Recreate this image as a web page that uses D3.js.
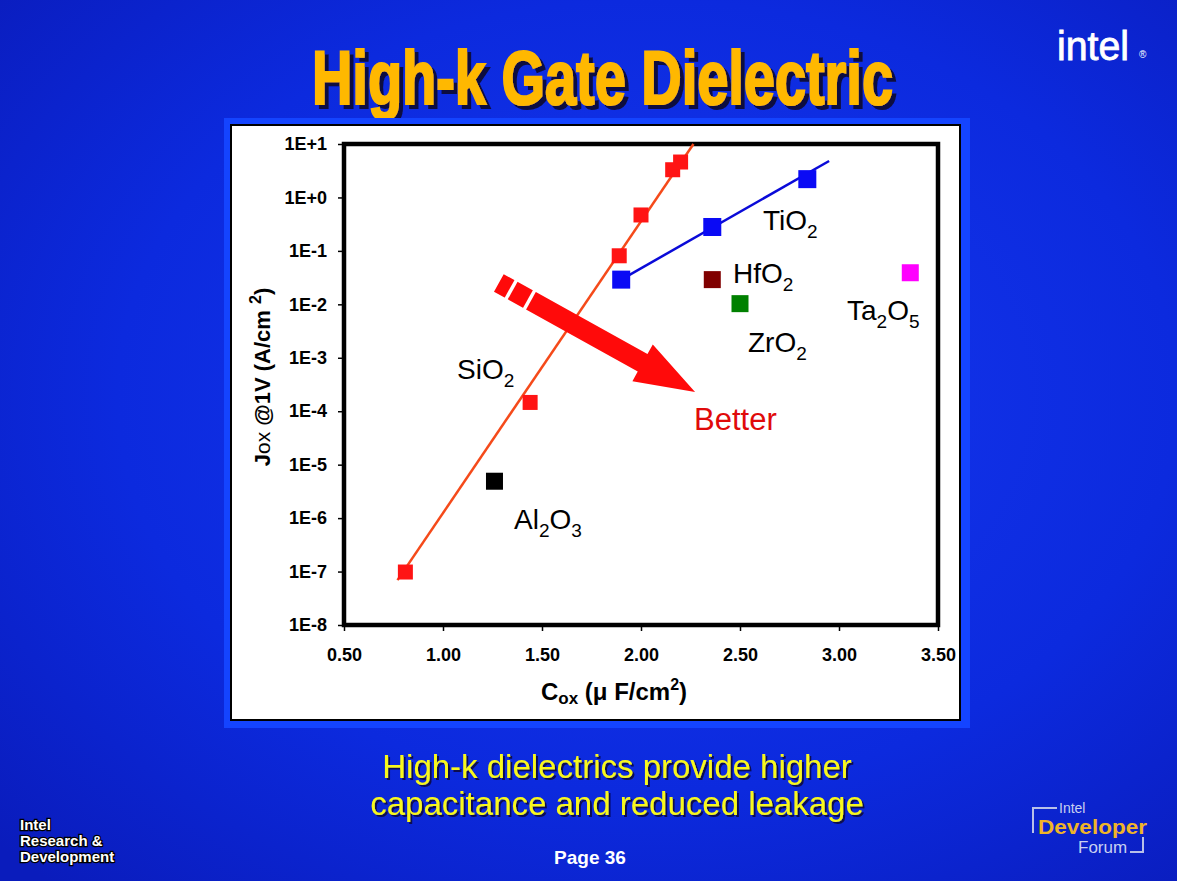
<!DOCTYPE html>
<html>
<head>
<meta charset="utf-8">
<script src="https://cdn.jsdelivr.net/npm/d3@7"></script>
<style>
  html, body { margin: 0; padding: 0; background: #0c28d8; }
  svg { display: block; }
  text { font-family: Arial, "Liberation Sans", Helvetica, sans-serif; }
</style>
</head>
<body>
<svg id="chart" width="1177" height="881"></svg>
<script>
// ---------- data ----------
const xTicks = [0.5, 1.0, 1.5, 2.0, 2.5, 3.0, 3.5];
const xTickLabels = ["0.50", "1.00", "1.50", "2.00", "2.50", "3.00", "3.50"];
const yTicks = [1e-8, 1e-7, 1e-6, 1e-5, 1e-4, 1e-3, 1e-2, 1e-1, 1e0, 1e1];
const yTickLabels = ["1E-8", "1E-7", "1E-6", "1E-5", "1E-4", "1E-3", "1E-2", "1E-1", "1E+0", "1E+1"];

const sio2X = [0.81, 1.44, 1.89, 2.00, 2.16, 2.20];
const sio2Y = [9.8e-8, 1.46e-4, 0.081, 0.47, 3.3, 4.6];
const sio2FitX = [0.77, 2.265];
const sio2FitY = [6.9e-8, 10];

const tio2X = [1.90, 2.36, 2.84];
const tio2Y = [0.029, 0.28, 2.2];
const tio2FitX = [1.90, 2.95];
const tio2FitY = [0.029, 4.8];

const otherNames = ["HfO2", "ZrO2", "Ta2O5", "Al2O3"];
const otherX = [2.36, 2.50, 3.36, 1.26];
const otherY = [0.029, 0.0103, 0.039, 4.9e-6];
const otherColors = ["#800000", "#008000", "#ff00ff", "#000000"];

// arrow annotation (data coords): tail and tip
const arrowX = [1.282, 2.273];
const arrowY = [0.0251, 2.29e-4];

// ---------- drawing ----------
const svg = d3.select("#chart");
const W = 1177, H = 881;

const defs = svg.append("defs");
const bg = defs.append("radialGradient").attr("id", "bg")
  .attr("cx", "55%").attr("cy", "45%").attr("r", "75%");
bg.append("stop").attr("offset", "0%").attr("stop-color", "#1638f0");
bg.append("stop").attr("offset", "60%").attr("stop-color", "#0c2ade");
bg.append("stop").attr("offset", "100%").attr("stop-color", "#0a1cbc");

const mkShadow = (id, dx, dy, col) => {
  const f = defs.append("filter").attr("id", id).attr("x", "-10%").attr("y", "-20%").attr("width", "130%").attr("height", "150%");
  f.append("feDropShadow").attr("dx", dx).attr("dy", dy).attr("stdDeviation", 0.4)
    .attr("flood-color", col).attr("flood-opacity", 1);
};
mkShadow("shTitle", 4, 4, "#101040");
mkShadow("shCap", 2, 2, "#0a0a50");

svg.append("rect").attr("width", W).attr("height", H).attr("fill", "url(#bg)");

// Title
svg.append("text").attr("x", 312).attr("y", 104)
  .attr("font-family", "'Liberation Sans Narrow', 'DejaVu Sans Condensed', Arial, sans-serif")
  .attr("font-weight", "bold").attr("font-size", 76)
  .attr("textLength", 581).attr("lengthAdjust", "spacingAndGlyphs")
  .attr("fill", "#ffb800").attr("stroke", "#ffb800").attr("stroke-width", 2.2)
  .attr("filter", "url(#shTitle)")
  .text("High-k Gate Dielectric");

// intel logo
svg.append("text").attr("x", 1057).attr("y", 60).attr("fill", "#ffffff")
  .attr("font-size", 40).attr("stroke", "#ffffff").attr("stroke-width", 0.8)
  .attr("textLength", 72).attr("lengthAdjust", "spacingAndGlyphs").text("intel");
svg.append("text").attr("x", 1139).attr("y", 58).attr("font-size", 10).attr("fill", "#ffffff").text("®");

// chart panel
svg.append("rect").attr("x", 224).attr("y", 118).attr("width", 746).attr("height", 610).attr("fill", "#1444ff");
svg.append("rect").attr("x", 231).attr("y", 125).attr("width", 729).attr("height", 595)
  .attr("fill", "#ffffff").attr("stroke", "#000000").attr("stroke-width", 2);

const x = d3.scaleLinear().domain([0.5, 3.5]).range([344, 938]);
const y = d3.scaleLog().domain([1e-8, 10]).range([625, 144]);

// axes
const yAxis = d3.axisLeft(y).tickValues(yTicks)
  .tickFormat((d, i) => yTickLabels[i]).tickSize(6).tickSizeOuter(0).tickPadding(11);
const yg = svg.append("g").attr("transform", "translate(344,0)").call(yAxis);
const xAxis = d3.axisBottom(x).tickValues(xTicks)
  .tickFormat((d, i) => xTickLabels[i]).tickSize(6).tickSizeOuter(0).tickPadding(17);
const xg = svg.append("g").attr("transform", "translate(0,625)").call(xAxis);
[yg, xg].forEach(g => {
  g.select(".domain").remove();
  g.selectAll(".tick line").attr("stroke", "#000").attr("stroke-width", 1.5);
  g.selectAll(".tick text").attr("fill", "#000").attr("font-size", 18)
    .attr("font-weight", "bold").attr("font-family", "Arial, 'Liberation Sans', sans-serif");
});

// plot frame
svg.append("rect").attr("x", 344).attr("y", 144).attr("width", 594).attr("height", 481)
  .attr("fill", "none").attr("stroke", "#000").attr("stroke-width", 4.5);

// axis titles
const xt = svg.append("text").attr("x", 614).attr("y", 700).attr("text-anchor", "middle")
  .attr("font-size", 24).attr("font-weight", "bold").attr("fill", "#000");
xt.append("tspan").text("C");
xt.append("tspan").attr("font-size", 17).attr("dy", 4).text("ox");
xt.append("tspan").attr("dy", -4).text(" (\u03bc F/cm");
xt.append("tspan").attr("font-size", 16).attr("dy", -10).text("2");
xt.append("tspan").attr("dy", 10).text(")");

const ytl = svg.append("text").attr("transform", "translate(270,377) rotate(-90)")
  .attr("text-anchor", "middle").attr("font-size", 22).attr("font-weight", "bold").attr("fill", "#000");
ytl.append("tspan").text("J");
ytl.append("tspan").attr("font-weight", "normal").attr("font-size", 21).text("ox");
ytl.append("tspan").text(" @1V (A/cm ");
ytl.append("tspan").attr("font-size", 16).attr("dy", -9).text("2");
ytl.append("tspan").attr("dy", 9).text(")");

// fit lines
const line = d3.line().x(d => x(d[0])).y(d => y(d[1]));
svg.append("path").datum(sio2FitX.map((v, i) => [v, sio2FitY[i]]))
  .attr("d", line).attr("fill", "none").attr("stroke", "#f54a1a").attr("stroke-width", 2.5);
svg.append("path").datum(tio2FitX.map((v, i) => [v, tio2FitY[i]]))
  .attr("d", line).attr("fill", "none").attr("stroke", "#0a0ad8").attr("stroke-width", 2.5);

// markers
const sq = (g, xs, ys, size, color) => g.selectAll(null).data(xs).join("rect")
  .attr("x", (d) => x(d) - size / 2).attr("y", (d, i) => y(ys[i]) - size / 2)
  .attr("width", size).attr("height", size).attr("fill", (d, i) => Array.isArray(color) ? color[i] : color);
sq(svg.append("g"), sio2X, sio2Y, 15, "#ff1414");
sq(svg.append("g"), tio2X, tio2Y, 18, "#0a0af5");
sq(svg.append("g"), otherX, otherY, 17, otherColors);

// arrow
const t0 = [x(arrowX[0]), y(arrowY[0])], t1 = [x(arrowX[1]), y(arrowY[1])];
const L = Math.hypot(t1[0] - t0[0], t1[1] - t0[1]);
const u = [(t1[0] - t0[0]) / L, (t1[1] - t0[1]) / L], n = [-u[1], u[0]];
const hw = 10, hh = 21, hl = 60;
const base = [t1[0] - u[0] * hl, t1[1] - u[1] * hl];
const P = (p, k) => [p[0] + n[0] * k, p[1] + n[1] * k];
const arrowPts = [P(t0, hw), P(base, hw), P(base, hh), t1, P(base, -hh), P(base, -hw), P(t0, -hw)];
svg.append("path").attr("d", "M" + arrowPts.map(p => p.join(",")).join("L") + "Z").attr("fill", "#ff0a0a");
[14, 35].forEach(dist => {
  const c = [t0[0] + u[0] * dist, t0[1] + u[1] * dist];
  const a = P(c, hw + 2), b = P(c, -hw - 2);
  svg.append("line").attr("x1", a[0]).attr("y1", a[1]).attr("x2", b[0]).attr("y2", b[1])
    .attr("stroke", "#ffffff").attr("stroke-width", 3.5);
});

// labels
const lab = (px, py, parts, color, size) => {
  const t = svg.append("text").attr("x", px).attr("y", py).attr("font-size", size || 28).attr("fill", color || "#000");
  parts.forEach(p => {
    if (p.sub) t.append("tspan").attr("font-size", 19).attr("dy", 8).text(p.s);
    else t.append("tspan").attr("dy", p.back ? -8 : 0).text(p.s);
  });
};
lab(763, 230, [{s: "TiO"}, {s: "2", sub: 1}]);
lab(733, 283, [{s: "HfO"}, {s: "2", sub: 1}]);
lab(847, 320, [{s: "Ta"}, {s: "2", sub: 1}, {s: "O", back: 1}, {s: "5", sub: 1}]);
lab(748, 352, [{s: "ZrO"}, {s: "2", sub: 1}]);
lab(457, 379, [{s: "SiO"}, {s: "2", sub: 1}]);
lab(514, 529, [{s: "Al"}, {s: "2", sub: 1}, {s: "O", back: 1}, {s: "3", sub: 1}]);
lab(694, 430, [{s: "Better"}], "#e00a0a", 31);

// bottom caption
const cap = svg.append("g").attr("font-size", 33).attr("text-anchor", "middle")
  .attr("fill", "#f8f81e").attr("filter", "url(#shCap)");
[["High-k dielectrics provide higher", 778], ["capacitance and reduced leakage", 815]].forEach(([s, yy]) => {
  cap.append("text").attr("x", 617).attr("y", yy).text(s);
});

svg.append("text").attr("x", 590).attr("y", 864).attr("text-anchor", "middle")
  .attr("font-size", 19).attr("font-weight", "bold").attr("fill", "#ffffff").text("Page 36");

// bottom-left label
const rd = svg.append("g").attr("font-size", 15).attr("font-weight", "bold").attr("fill", "#ffffff")
  .attr("stroke", "#000000").attr("stroke-width", 2.5).attr("paint-order", "stroke");
[["Intel", 830], ["Research &", 846], ["Development", 862]].forEach(([s, yy]) =>
  rd.append("text").attr("x", 20).attr("y", yy).text(s));

// Intel Developer Forum logo
const idf = svg.append("g");
idf.append("path").attr("d", "M1057,808 H1033 V833").attr("fill", "none").attr("stroke", "#b8c0e8").attr("stroke-width", 2);
idf.append("path").attr("d", "M1143,837 V852 H1130").attr("fill", "none").attr("stroke", "#b8c0e8").attr("stroke-width", 2);
idf.append("text").attr("x", 1059).attr("y", 813).attr("font-size", 14).attr("fill", "#c8d0f0").text("Intel");
idf.append("text").attr("x", 1038).attr("y", 834).attr("font-size", 21).attr("font-weight", "bold")
  .attr("fill", "#f0b428").attr("textLength", 109).attr("lengthAdjust", "spacingAndGlyphs").text("Developer");
idf.append("text").attr("x", 1078).attr("y", 853).attr("font-size", 17).attr("fill", "#c8d0f0").text("Forum");
</script>
</body>
</html>
